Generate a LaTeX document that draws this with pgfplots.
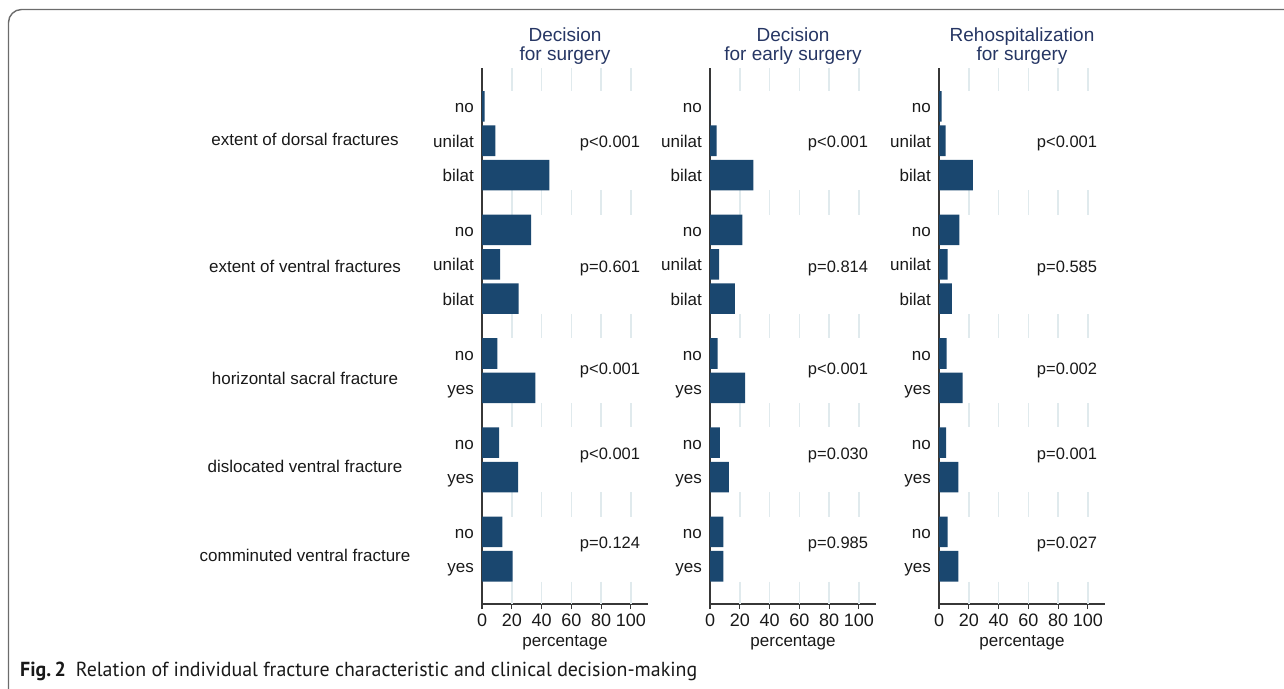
\documentclass[border=0pt]{standalone}
\usepackage{pgfplots}
\pgfplotsset{compat=1.18}
\usepackage{fontspec}
\setmainfont{Liberation Sans}
\newfontfamily\capfont{PT Sans}
\definecolor{barnavy}{RGB}{26,71,111}
\definecolor{titlenavy}{RGB}{38,54,100}
\definecolor{gridc}{RGB}{224,234,237}
\definecolor{axc}{RGB}{55,55,55}
\definecolor{txt}{RGB}{25,25,25}
\newcommand{\fseventeen}{\fontsize{17bp}{20bp}\selectfont}
\newcommand{\feighteen}{\fontsize{18bp}{21bp}\selectfont}
\newcommand{\ftitle}{\fontsize{19bp}{22bp}\selectfont}
\newcommand{\fp}{\fontsize{16.5bp}{19bp}\selectfont}

\pgfplotsset{panel/.style={
  scale only axis, width=166bp, height=536bp,
  xmin=0, xmax=111.5, ymin=-14.5, ymax=1.12,
  axis x line*=bottom, axis y line*=left,
  axis line style={axc, line width=1.2bp},
  xtick={0,20,...,100},
  ytick={0,-1,-2,-3.6,-4.6,-5.6,-7.2,-8.2,-9.8,-10.8,-12.4,-13.4},
  yticklabels={no,unilat,bilat,no,unilat,bilat,no,yes,no,yes,no,yes},
  tick align=outside,
  major tick length=5bp,
  x tick style={axc, line width=1.2bp},
  y tick style={draw=none},
  /pgf/number format/assume math mode=true,
  x tick label style={font=\feighteen, text=txt, anchor=base, inner sep=0pt, yshift=-17.3bp},
  xticklabel shift=0pt,
  yticklabel shift=0pt,
  y tick label style={font=\fseventeen, text=txt, anchor=base east, inner sep=0pt, xshift=-3bp, yshift=-6.5bp},
  xlabel={percentage},
  xlabel style={font=\fseventeen, text=txt, at={(axis description cs:0.5,0)}, anchor=base, inner sep=0pt, yshift=-42bp},
  clip=false,
}}

\newcommand{\gridsegs}{%
  \pgfplotsinvokeforeach{20,40,60,80,100}{
    \draw[gridc, line width=1.5bp] (axis cs:##1,1.12) -- (axis cs:##1,0.445);
    \draw[gridc, line width=1.5bp] (axis cs:##1,-2.445) -- (axis cs:##1,-3.155);
    \draw[gridc, line width=1.5bp] (axis cs:##1,-6.045) -- (axis cs:##1,-6.755);
    \draw[gridc, line width=1.5bp] (axis cs:##1,-8.645) -- (axis cs:##1,-9.355);
    \draw[gridc, line width=1.5bp] (axis cs:##1,-11.245) -- (axis cs:##1,-11.955);
    \draw[gridc, line width=1.5bp] (axis cs:##1,-13.845) -- (axis cs:##1,-14.5);
  }%
}

\begin{document}
\begin{tikzpicture}
\useasboundingbox (0bp,0bp) rectangle (1284bp,-689bp);
\begin{scope}
\clip (0bp,0bp) rectangle (1284bp,-689bp);
\draw[gray!85!black, line width=1.4bp, rounded corners=13bp] (8.5bp,-720bp) -- (8.5bp,-9.5bp) -- (1320bp,-9.5bp);
\end{scope}

% Panel 1
\begin{axis}[panel, at={(482bp,-604bp)}, anchor=south west]
\gridsegs
\addplot[xbar, bar width=0.89, fill=barnavy, draw=none] coordinates {
(1.7,0) (9.0,-1) (45.2,-2)
(33.0,-3.6) (12.2,-4.6) (24.6,-5.6)
(10.3,-7.2) (35.8,-8.2)
(11.5,-9.8) (24.3,-10.8)
(13.7,-12.4) (20.6,-13.4)};
\end{axis}

% Panel 2
\begin{axis}[panel, at={(710bp,-604bp)}, anchor=south west]
\gridsegs
\addplot[xbar, bar width=0.89, fill=barnavy, draw=none] coordinates {
(0,0) (4.5,-1) (29.1,-2)
(21.8,-3.6) (6.2,-4.6) (16.7,-5.6)
(5.1,-7.2) (23.6,-8.2)
(6.7,-9.8) (12.7,-10.8)
(8.9,-12.4) (8.9,-13.4)};
\end{axis}

% Panel 3
\begin{axis}[panel, at={(939bp,-604bp)}, anchor=south west]
\gridsegs
\addplot[xbar, bar width=0.89, fill=barnavy, draw=none] coordinates {
(1.8,0) (4.5,-1) (22.8,-2)
(13.6,-3.6) (5.8,-4.6) (8.7,-5.6)
(5.1,-7.2) (15.9,-8.2)
(4.7,-9.8) (13.0,-10.8)
(5.8,-12.4) (13.0,-13.4)};
\end{axis}

% Titles
\begin{scope}[every node/.style={anchor=base, inner sep=0pt, text=titlenavy, font=\ftitle}]
\node at (565bp,-41.7bp) {Decision};
\node at (565bp,-60.7bp) {for surgery};
\node at (793bp,-41.7bp) {Decision};
\node at (793bp,-60.7bp) {for early surgery};
\node at (1022bp,-41.7bp) {Rehospitalization};
\node at (1022bp,-60.7bp) {for surgery};
\end{scope}

% Group labels
\begin{scope}[every node/.style={anchor=base, inner sep=0pt, text=txt, font=\fseventeen}]
\node at (305bp,-145bp) {extent of dorsal fractures};
\node at (305bp,-272.3bp) {extent of ventral fractures};
\node at (305bp,-384bp) {horizontal sacral fracture};
\node at (305bp,-472.7bp) {dislocated ventral fracture};
\node at (305bp,-561.7bp) {comminuted ventral fracture};
\end{scope}

% p-values
\begin{scope}[every node/.style={anchor=base, inner sep=0pt, text=txt, font=\fp}]
\node at (610bp,-147.7bp) {p<0.001};
\node at (610bp,-272.7bp) {p=0.601};
\node at (610bp,-374.3bp) {p<0.001};
\node at (610bp,-459.3bp) {p<0.001};
\node at (610bp,-548.3bp) {p=0.124};
\node at (838bp,-147.7bp) {p<0.001};
\node at (838bp,-272.7bp) {p=0.814};
\node at (838bp,-374.3bp) {p<0.001};
\node at (838bp,-459.3bp) {p=0.030};
\node at (838bp,-548.3bp) {p=0.985};
\node at (1067bp,-147.7bp) {p<0.001};
\node at (1067bp,-272.7bp) {p=0.585};
\node at (1067bp,-374.3bp) {p=0.002};
\node at (1067bp,-459.3bp) {p=0.001};
\node at (1067bp,-548.3bp) {p=0.027};
\end{scope}

% Caption
\node[anchor=base west, inner sep=0pt, text=txt] at (20bp,-676bp) {\resizebox{677bp}{14.5bp}{\capfont\fontsize{20bp}{24bp}\selectfont\textbf{Fig.\,2}\hspace{0.5em}Relation of individual fracture characteristic and clinical decision-making}};
\end{tikzpicture}
\end{document}
